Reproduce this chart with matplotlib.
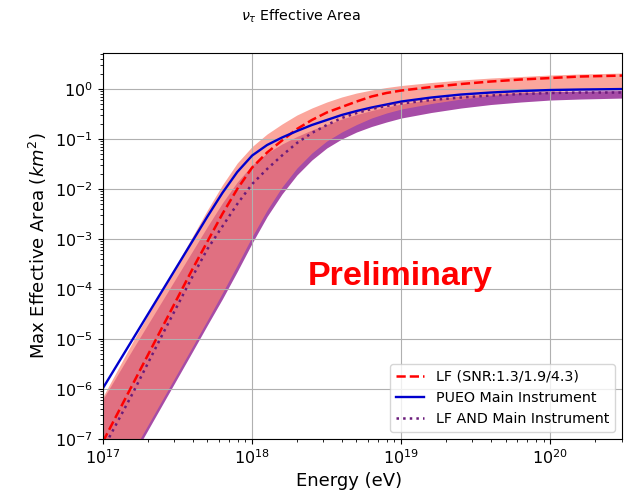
import numpy as np
import matplotlib
matplotlib.use("Agg")
import matplotlib.pyplot as plt

# energia (log10 eV)
log_e = np.array([17.0, 17.2, 17.4, 17.6, 17.7, 17.8, 17.9, 18.0, 18.1, 18.2, 18.3, 18.4,
                  18.5, 18.6, 18.7, 18.8, 18.9, 19.0, 19.2, 19.4, 19.6, 19.8, 20.0, 20.2, 20.5])

# curve (log10 km^2)
lf_mid = np.array([-7.05, -5.9, -4.75, -3.6, -3.05, -2.5, -2.0, -1.57, -1.27, -1.03, -0.8, -0.62,
                   -0.47, -0.36, -0.25, -0.15, -0.08, -0.03, 0.04, 0.1, 0.15, 0.19, 0.22, 0.25, 0.27])
pueo_main = np.array([-5.98, -5.0, -4.02, -3.04, -2.55, -2.08, -1.66, -1.33, -1.12, -0.97, -0.84, -0.72,
                      -0.62, -0.52, -0.44, -0.37, -0.31, -0.25, -0.17, -0.11, -0.07, -0.04, -0.02, -0.01, 0.0])
lf_and = np.array([-7.2, -6.08, -4.9, -3.75, -3.2, -2.75, -2.3, -1.9, -1.6, -1.33, -1.08, -0.88,
                   -0.72, -0.58, -0.48, -0.4, -0.34, -0.29, -0.22, -0.17, -0.13, -0.1, -0.08, -0.07, -0.07])

# bande SNR
lf_hi = np.array([-6.15, -5.05, -4.0, -2.95, -2.42, -1.92, -1.48, -1.15, -0.9, -0.7, -0.52, -0.38,
                  -0.26, -0.16, -0.08, -0.02, 0.03, 0.07, 0.13, 0.18, 0.22, 0.25, 0.28, 0.3, 0.32])
lf_lo = np.array([-8.3, -7.25, -6.2, -5.15, -4.62, -4.08, -3.52, -2.95, -2.42, -1.96, -1.58, -1.28,
                  -1.04, -0.86, -0.71, -0.58, -0.48, -0.4, -0.29, -0.2, -0.13, -0.08, -0.05, -0.03, -0.02])
and_hi = np.array([-6.2, -5.2, -4.22, -3.24, -2.75, -2.28, -1.86, -1.52, -1.28, -1.1, -0.95, -0.82,
                   -0.71, -0.6, -0.51, -0.43, -0.36, -0.3, -0.21, -0.14, -0.1, -0.07, -0.05, -0.04, -0.03])
and_lo = np.array([-8.4, -7.35, -6.3, -5.25, -4.72, -4.2, -3.65, -3.08, -2.55, -2.1, -1.72, -1.42,
                   -1.18, -1.0, -0.86, -0.75, -0.66, -0.58, -0.47, -0.38, -0.31, -0.26, -0.22, -0.2, -0.18])

E = 10 ** log_e

fig = plt.figure(figsize=(6.27, 4.96), dpi=100)
ax = fig.add_axes([0.1643, 0.1149, 0.8278, 0.7782])

ax.fill_between(E, 10 ** and_lo, 10 ** and_hi, color='purple', alpha=0.7, lw=0)
ax.fill_between(E, 10 ** lf_lo, 10 ** lf_hi, color='salmon', alpha=0.7, lw=0)

ax.plot(E, 10 ** lf_mid, color='red', linestyle='--', lw=1.8, label='LF (SNR:1.3/1.9/4.3)')
ax.plot(E, 10 ** pueo_main, color='mediumblue', linestyle='-', lw=1.7, label='PUEO Main Instrument')
ax.plot(E, 10 ** lf_and, color='#6a1b7a', linestyle=':', lw=1.8, label='LF AND Main Instrument')

ax.set_xscale('log')
ax.set_yscale('log')
ax.set_xlim(1e17, 10 ** 20.48)
ax.set_ylim(1e-7, 10 ** 0.72)
ax.set_yticks([10.0 ** k for k in range(-7, 1)])
ax.grid(True, which='major', color='#b0b0b0', lw=0.8)
ax.tick_params(labelsize=11.5)

ax.set_xlabel('Energy (eV)', fontsize=13)
ax.xaxis.set_label_coords(0.475, -0.085)
ax.set_ylabel('Max Effective Area ($km^2$)', fontsize=13)

fig.text(0.48, 0.968, r'$\nu_\tau$ Effective Area', ha='center', va='center', fontsize=10.3)

ax.text(0.572, 0.42, 'Preliminary', transform=ax.transAxes, ha='center', va='center',
        color='red', fontsize=24.5, fontweight='bold', family='Liberation Sans')

ax.legend(loc='lower right', fontsize=10.3)

fig.savefig('out.png', dpi=100)
